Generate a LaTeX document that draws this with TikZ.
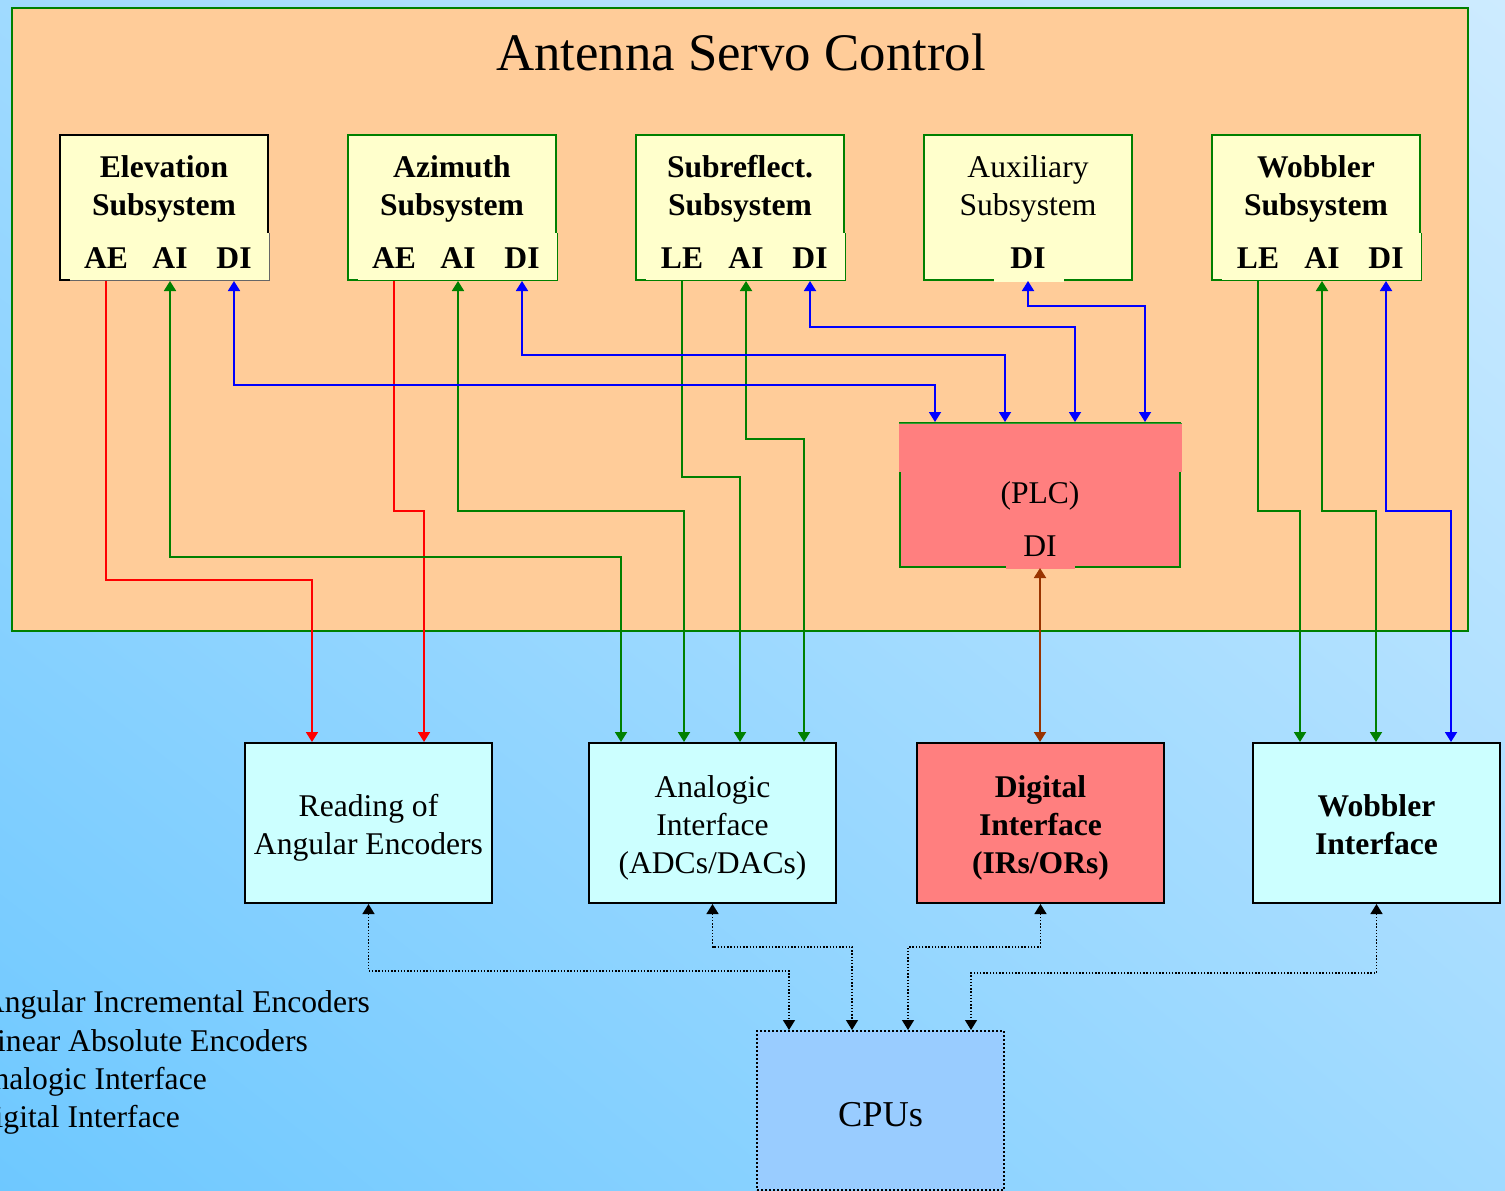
\documentclass[tikz,border=0pt]{standalone}
\usepackage{fontspec}
\setmainfont{Liberation Serif}
\usetikzlibrary{arrows.meta,shadings}
\definecolor{peach}{RGB}{255,204,153}
\definecolor{ylw}{RGB}{255,255,204}
\definecolor{cyanl}{RGB}{204,255,255}
\definecolor{salmon}{RGB}{255,127,127}
\definecolor{cpuc}{RGB}{153,204,255}
\definecolor{dgreen}{RGB}{0,128,0}
\definecolor{redc}{RGB}{255,0,0}
\definecolor{bluec}{RGB}{0,0,255}
\definecolor{brownc}{RGB}{153,51,0}
\definecolor{bgLL}{RGB}{110,200,255}
\definecolor{bgUR}{RGB}{205,235,255}
\definecolor{bgMID}{RGB}{160,218,255}
\newcommand\fsz{\fontsize{31.6}{38}\selectfont}
\begin{document}
\begin{tikzpicture}[x=1pt,y=-1pt,
  tx/.style={inner sep=0pt, anchor=base, font=\fsz},
  btx/.style={inner sep=0pt, anchor=base, font=\fsz\bfseries},
  subbox/.style={draw=dgreen, line width=2pt, fill=ylw, minimum width=208pt, minimum height=145pt, inner sep=0pt},
  iobox/.style={draw=black, line width=2pt, fill=cyanl, minimum width=247pt, minimum height=160pt, inner sep=0pt},
  conn/.style={line width=1.8pt},
  tip/.style={-{Triangle[width=12pt,length=10pt]}},
  both/.style={{Triangle[width=12pt,length=10pt]}-{Triangle[width=12pt,length=10pt]}},
  dotc/.style={line width=1.4pt, dash pattern=on 1.4pt off 1.8pt},
  thinl/.style={line width=0.8pt},
]
\useasboundingbox (0,0) rectangle (1505,1191);
\shade[upper left=bgMID, upper right=bgUR, lower left=bgLL, lower right=bgMID] (0,0) rectangle (1505,1191);

% panel
\path[fill=peach, draw=dgreen, line width=1.5pt] (12,8) rectangle (1468,631);
\node[inner sep=0pt, anchor=base, font=\fontsize{52.8}{60}\selectfont] (title) at (741,70) {Antenna Servo Control};

% subsystem boxes
\node[subbox, draw=black] (el) at (164,207.5) {};
\node[subbox] (az) at (452,207.5) {};
\node[subbox] (sr) at (740,207.5) {};
\node[subbox] (ax) at (1028,207.5) {};
\node[subbox] (wb) at (1316,207.5) {};
% label overlays (fill, then thin bottom and right edges)
\fill[ylw] (70,233) rectangle (269.5,280.5);
\draw[thinl, black!60] (70,280.5) -- (269.5,280.5) -- (269.5,233);
\fill[ylw] (358,233) rectangle (557.5,280.5);
\draw[thinl, dgreen] (358,280.5) -- (557.5,280.5) -- (557.5,233);
\fill[ylw] (646,233) rectangle (845.5,280.5);
\draw[thinl, dgreen] (646,280.5) -- (845.5,280.5) -- (845.5,233);
\fill[ylw] (994,240) rectangle (1064,281.5);
\fill[ylw] (1222,233) rectangle (1421.5,280.5);
\draw[thinl, dgreen] (1222,280.5) -- (1421.5,280.5) -- (1421.5,233);

\node[btx] (elT1) at (164,177) {Elevation};
\node[btx] (elT2) at (164,215) {Subsystem};
\node[btx] (azT1) at (452,177) {Azimuth};
\node[btx] (azT2) at (452,215) {Subsystem};
\node[btx] (srT1) at (740,177) {Subreflect.};
\node[btx] (srT2) at (740,215) {Subsystem};
\node[tx]  (axT1) at (1028,177) {Auxiliary};
\node[tx]  (axT2) at (1028,215) {Subsystem};
\node[btx] (wbT1) at (1316,177) {Wobbler};
\node[btx] (wbT2) at (1316,215) {Subsystem};

\node[btx] (elAE) at (106,268) {AE};
\node[btx] (elAI) at (170,268) {AI};
\node[btx] (elDI) at (234,268) {DI};
\node[btx] (azAE) at (394,268) {AE};
\node[btx] (azAI) at (458,268) {AI};
\node[btx] (azDI) at (522,268) {DI};
\node[btx] (srLE) at (682,268) {LE};
\node[btx] (srAI) at (746,268) {AI};
\node[btx] (srDI) at (810,268) {DI};
\node[btx] (axDI) at (1028,268) {DI};
\node[btx] (wbLE) at (1258,268) {LE};
\node[btx] (wbAI) at (1322,268) {AI};
\node[btx] (wbDI) at (1386,268) {DI};

% PLC
\node[draw=dgreen, line width=2pt, fill=salmon, minimum width=280pt, minimum height=144pt, inner sep=0pt] (plc) at (1040,495) {};
\fill[salmon] (899,422.5) rectangle (1182,472);
\draw[thinl, dgreen!80] (899,423) -- (1182,423);
\fill[salmon] (1006,530) rectangle (1075,568.5);
\node[tx] (plcT) at (1040,503) {(PLC)};
\node[tx] (plcDI) at (1040,556) {DI};

% bottom boxes
\node[iobox] (rd) at (368.5,823) {};
\node[tx] at (368.5,816) {Reading of};
\node[tx] at (368.5,854) {Angular Encoders};
\node[iobox] (an) at (712.5,823) {};
\node[tx] at (712.5,797) {Analogic};
\node[tx] at (712.5,835) {Interface};
\node[tx] at (712.5,873) {(ADCs/DACs)};
\node[iobox, fill=salmon] (di) at (1040.5,823) {};
\node[btx] at (1040.5,797) {Digital};
\node[btx] at (1040.5,835) {Interface};
\node[btx] at (1040.5,873) {(IRs/ORs)};
\node[iobox] (wi) at (1376.5,823) {};
\node[btx] at (1376.5,816) {Wobbler};
\node[btx] at (1376.5,854) {Interface};

% CPUs
\node[draw=black, line width=2pt, dash pattern=on 2pt off 2pt, fill=cpuc, minimum width=247pt, minimum height=159pt, inner sep=0pt] (cpu) at (880.5,1110.5) {};
\node[inner sep=0pt, anchor=base, font=\fontsize{36.4}{42}\selectfont] (cpuT) at (880.5,1126) {CPUs};

% legend
\node[tx, anchor=base east] (lg1) at (370,1012) {Angular Incremental Encoders};
\node[tx, anchor=base east] (lg2) at (308,1051) {Linear Absolute Encoders};
\node[tx, anchor=base east] (lg3) at (207,1089) {Analogic Interface};
\node[tx, anchor=base east] (lg4) at (180,1127) {Digital Interface};

% red
\draw[conn, redc, tip] (elAE |- el.south) -- (elAE |- 0,580) -| ([xshift=-56.5pt]rd.north);
\draw[conn, redc, tip] (azAE |- az.south) -- (azAE |- 0,511) -| ([xshift=55.5pt]rd.north);
% green to analogic
\draw[conn, dgreen, both] (elAI |- el.south) -- (elAI |- 0,557) -| ([xshift=-91.5pt]an.north);
\draw[conn, dgreen, both] (azAI |- az.south) -- (azAI |- 0,511) -| ([xshift=-28.5pt]an.north);
\draw[conn, dgreen, tip] (srLE |- sr.south) -- (srLE |- 0,477) -| ([xshift=27.5pt]an.north);
\draw[conn, dgreen, both] (srAI |- sr.south) -- (srAI |- 0,439) -| ([xshift=91.5pt]an.north);
% blue to PLC
\draw[conn, bluec, both] (elDI |- el.south) -- (elDI |- 0,385) -| ([xshift=-105pt]plc.north);
\draw[conn, bluec, both] (azDI |- az.south) -- (azDI |- 0,355) -| ([xshift=-35pt]plc.north);
\draw[conn, bluec, both] (srDI |- sr.south) -- (srDI |- 0,327) -| ([xshift=35pt]plc.north);
\draw[conn, bluec, both] (axDI |- ax.south) -- (axDI |- 0,306) -| ([xshift=105pt]plc.north);
% wobbler
\draw[conn, dgreen, tip] (wbLE |- wb.south) -- (wbLE |- 0,511) -| ([xshift=-76.5pt]wi.north);
\draw[conn, dgreen, both] (wbAI |- wb.south) -- (wbAI |- 0,511) -| ([xshift=-0.5pt]wi.north);
\draw[conn, bluec, both] (wbDI |- wb.south) -- (wbDI |- 0,511) -| ([xshift=74.5pt]wi.north);
% brown
\draw[conn, brownc, both] (plcDI |- plc.south) -- (plcDI |- di.north);
% dotted to CPUs
\draw[dotc, both] (rd.south) -- (rd.south |- 0,971) -| ([xshift=-91.5pt]cpu.north);
\draw[dotc, both] (an.south) -- (an.south |- 0,947) -| ([xshift=-28.5pt]cpu.north);
\draw[dotc, both] (di.south) -- (di.south |- 0,947) -| ([xshift=27.5pt]cpu.north);
\draw[dotc, both] (wi.south) -- (wi.south |- 0,973) -| ([xshift=90.5pt]cpu.north);
\end{tikzpicture}
\end{document}
